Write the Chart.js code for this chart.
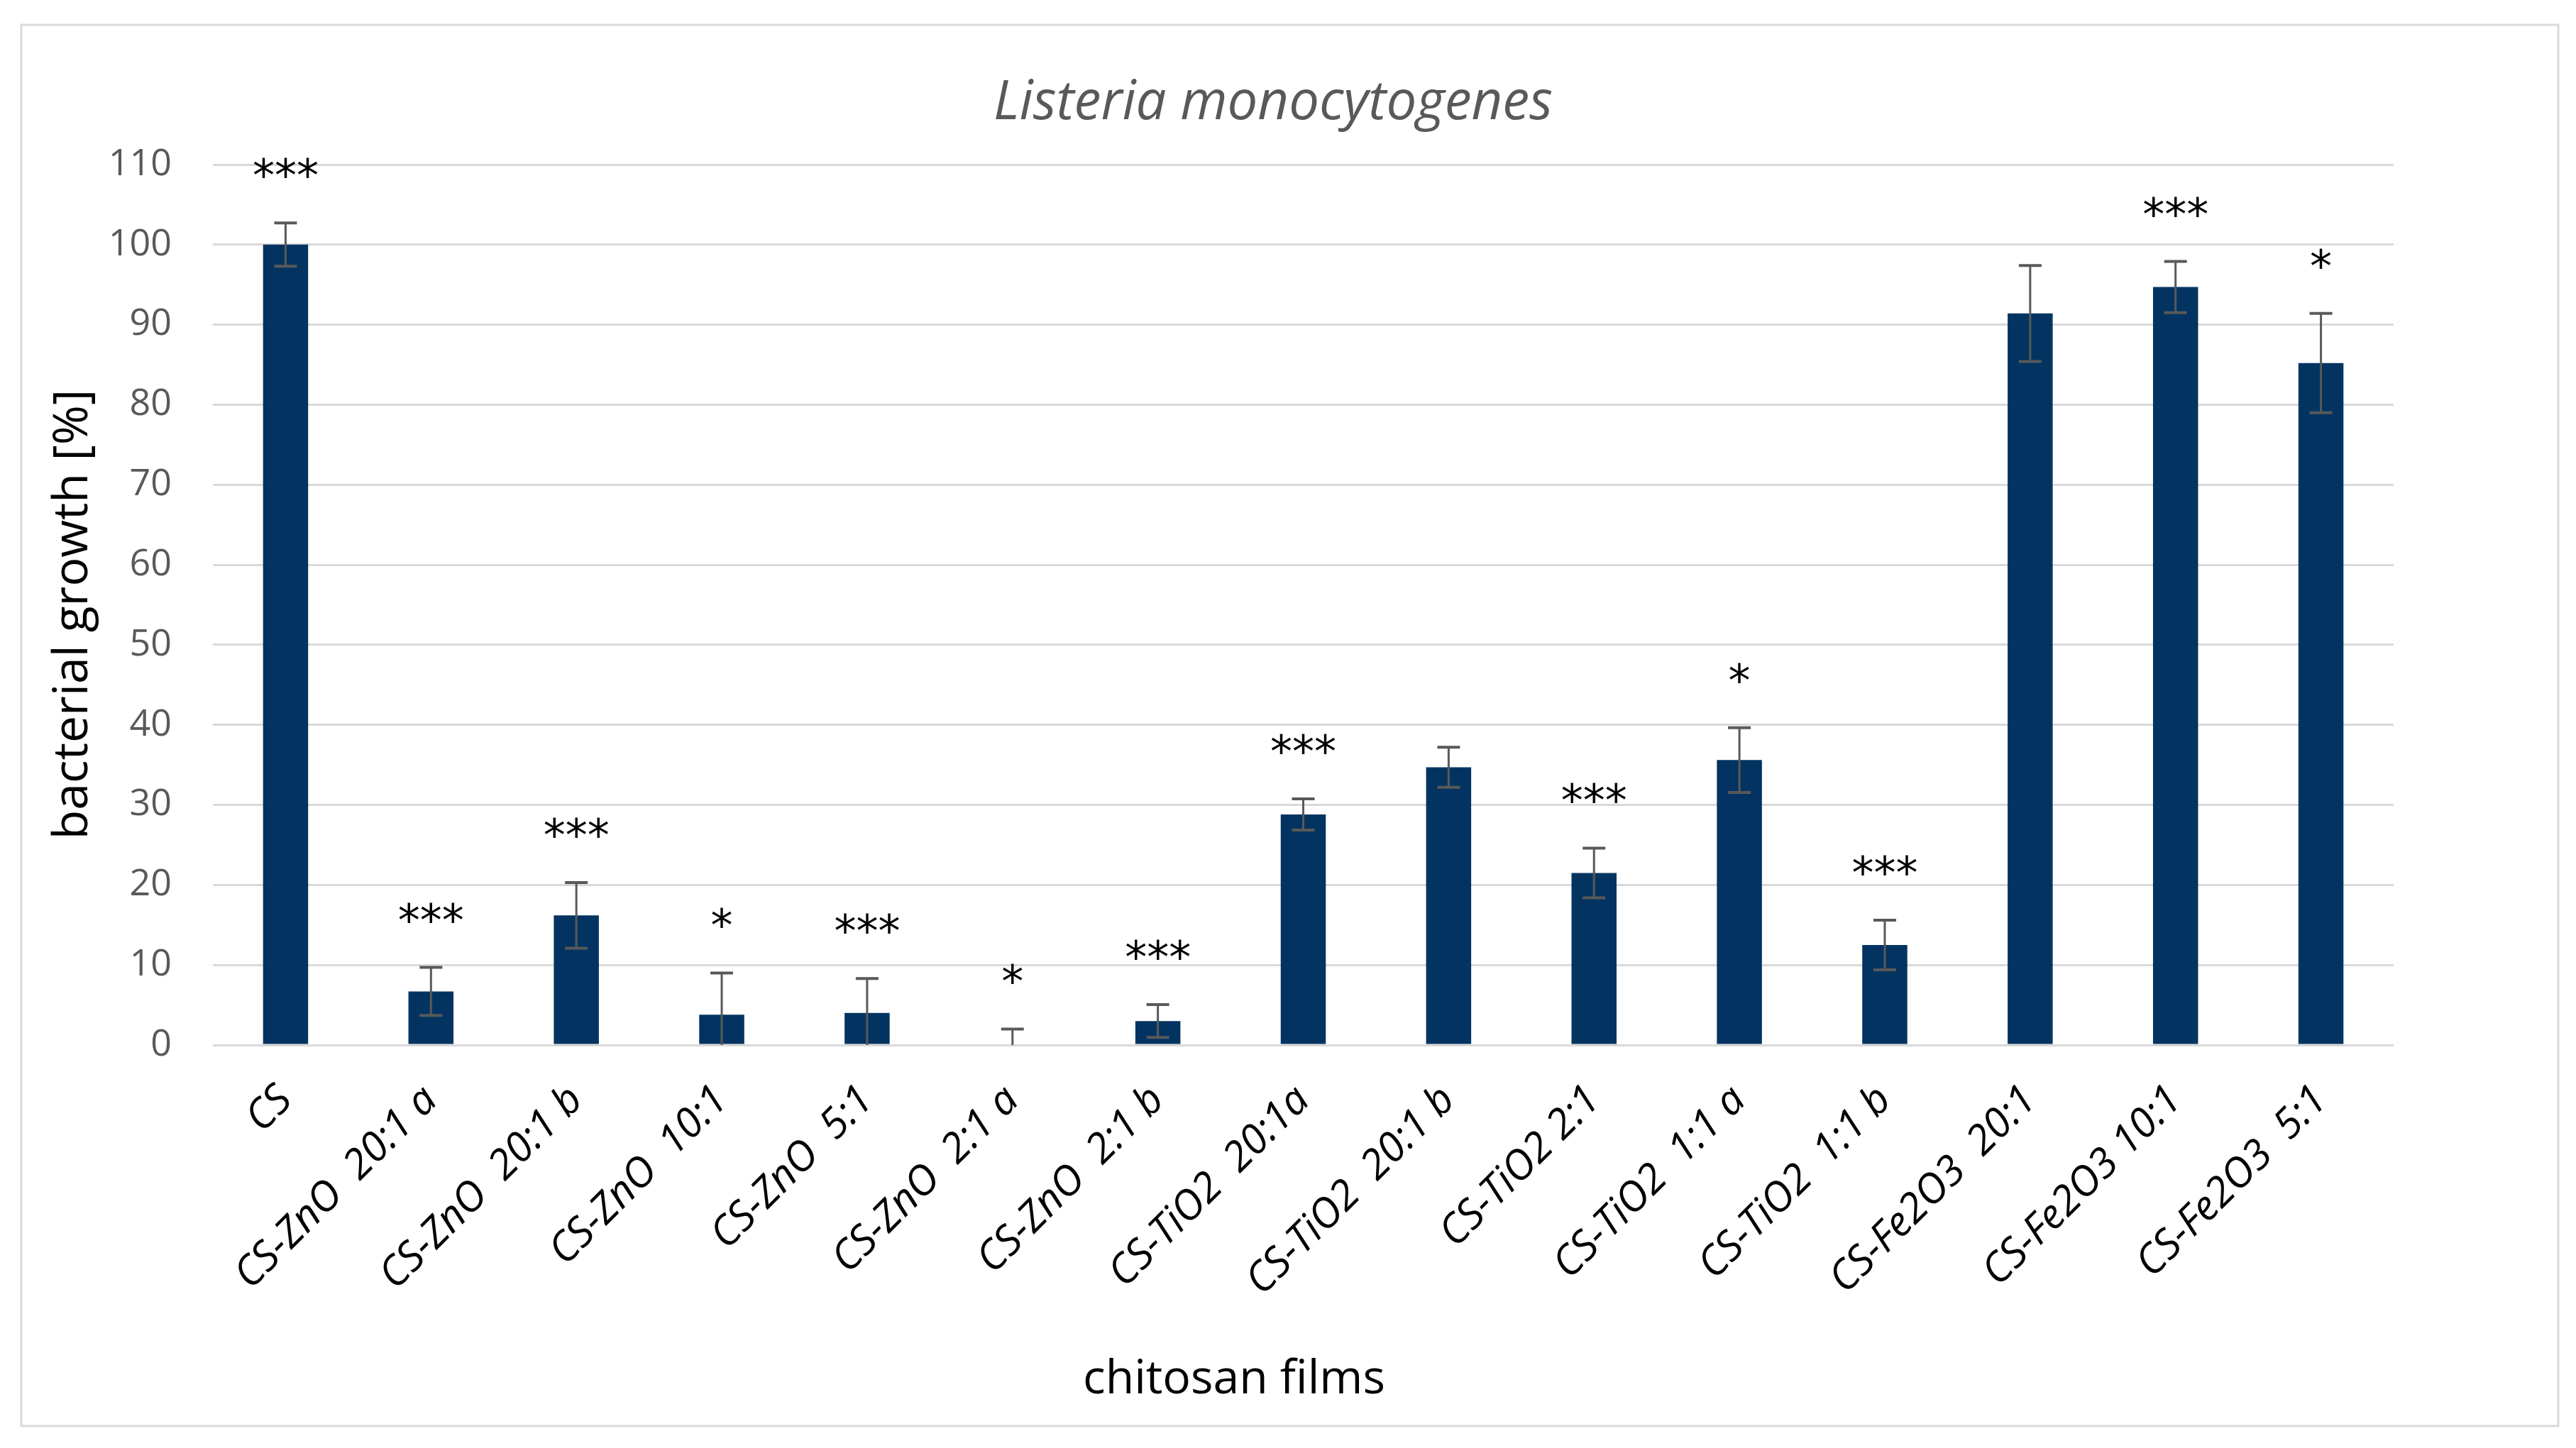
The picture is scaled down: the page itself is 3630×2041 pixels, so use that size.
<!DOCTYPE html>
<html>
<head>
<meta charset="utf-8">
<title>Listeria monocytogenes</title>
<script src="https://cdn.jsdelivr.net/npm/chart.js@4.4.0/dist/chart.umd.min.js"></script>
<style>
    html, body { margin: 0; padding: 0; background: #fff; }
    .chart-section { position: relative; width: 3630px; height: 2041px; }
</style>
</head>
<body>
<div class="chart-section">
    <canvas id="growthChart"></canvas>
</div>
<script>
// Chitosan film samples and measured growth (%) of Listeria monocytogenes
const categories = [
    'CS', 'CS-ZnO  20:1 a', 'CS-ZnO  20:1 b', 'CS-ZnO  10:1', 'CS-ZnO  5:1',
    'CS-ZnO  2:1 a', 'CS-ZnO  2:1 b', 'CS-TiO2  20:1a', 'CS-TiO2  20:1 b', 'CS-TiO2 2:1',
    'CS-TiO2  1:1 a', 'CS-TiO2  1:1 b', 'CS-Fe2O3  20:1', 'CS-Fe2O3 10:1', 'CS-Fe2O3  5:1'
];
const growthValues = [100, 6.7, 16.2, 3.8, 4.0, 0, 3.0, 28.8, 34.7, 21.5, 35.6, 12.5, 91.4, 94.7, 85.2];
const errorValues = [2.7, 3.0, 4.1, 5.2, 4.3, 2.0, 2.05, 1.95, 2.5, 3.1, 4.05, 3.1, 6.0, 3.2, 6.2];
const significance = ['***', '***', '***', '*', '***', '*', '***', '***', '', '***', '*', '***', '', '***', '*'];
const yTicks = [0, 10, 20, 30, 40, 50, 60, 70, 80, 90, 100, 110];

const chartTitle = 'Listeria monocytogenes';
const xTitle = 'chitosan films';
const yTitle = 'bacterial growth [%]';

document.addEventListener('DOMContentLoaded', function() {
    // white page + light grey frame round the whole figure
    const framePlugin = {
        id: 'frame',
        beforeDraw(chart) {
            const c = chart.ctx;
            c.save();
            c.fillStyle = '#ffffff';
            c.fillRect(0, 0, chart.width, chart.height);
            c.strokeStyle = '#d9d9d9';
            c.lineWidth = 3;
            c.strokeRect(30, 35, 3575, 1975);
            c.restore();
        }
    };

    // chart title and axis titles (placed like the Excel original, not centred on the plot)
    const titlesPlugin = {
        id: 'titles',
        afterDraw(chart) {
            const c = chart.ctx;
            c.save();
            c.textAlign = 'center';
            c.textBaseline = 'middle';

            c.fillStyle = '#595959';
            c.font = 'italic 76px "Open Sans", sans-serif';
            c.fillText(chartTitle, 1794, 146);

            c.fillStyle = '#000000';
            c.font = '66px "Open Sans", sans-serif';
            c.fillText(xTitle, 1739, 1945);

            c.translate(104, 866);
            c.rotate(-Math.PI / 2);
            c.font = '68px "Open Sans", sans-serif';
            c.fillText(yTitle, 0, 0);
            c.restore();
        }
    };

    // error bars and significance stars, placed through the y scale
    const errorBarPlugin = {
        id: 'errorBars',
        afterDatasetsDraw(chart) {
            const c = chart.ctx;
            const y = chart.scales.y;
            const meta = chart.getDatasetMeta(0);
            c.save();
            meta.data.forEach((bar, i) => {
                const v = growthValues[i];
                const e = errorValues[i];
                const top = y.getPixelForValue(v + e);
                const bottom = y.getPixelForValue(Math.max(0, v - e));
                c.strokeStyle = '#595959';
                c.lineWidth = 3;
                c.beginPath();
                c.moveTo(bar.x, top);
                c.lineTo(bar.x, bottom);
                c.stroke();
                c.lineWidth = 4;
                c.beginPath();
                c.moveTo(bar.x - 16, top);
                c.lineTo(bar.x + 16, top);
                if (v - e > 0) {
                    c.moveTo(bar.x - 16, bottom);
                    c.lineTo(bar.x + 16, bottom);
                }
                c.stroke();

                if (significance[i]) {
                    c.fillStyle = '#000000';
                    c.font = '62px "DejaVu Sans"';
                    c.textAlign = 'center';
                    c.textBaseline = 'alphabetic';
                    c.fillText(significance[i], bar.x, top - 45);
                }
            });
            c.restore();
        }
    };

    const config = {
        type: 'bar',
        data: {
            labels: categories,
            datasets: [{
                label: yTitle,
                data: growthValues,
                backgroundColor: '#033461',
                borderWidth: 0,
                barPercentage: 0.31,
                categoryPercentage: 1.0
            }]
        },
        options: {
            responsive: true,
            maintainAspectRatio: false,
            animation: false,
            layout: {
                padding: { left: 60, right: 257, top: 232, bottom: 40 }
            },
            plugins: {
                legend: { display: false },
                tooltip: { enabled: false },
                title: { display: false }
            },
            scales: {
                x: {
                    grid: { display: false },
                    border: { display: false },
                    ticks: {
                        color: '#000000',
                        font: { size: 58, family: '"Open Sans", sans-serif', style: 'italic' },
                        minRotation: 45,
                        maxRotation: 45,
                        autoSkip: false,
                        padding: 36
                    },
                    afterFit(scale) {
                        scale.height = 2041 - 1473 - 40;
                    }
                },
                y: {
                    min: 0,
                    max: 110,
                    afterBuildTicks(scale) {
                        scale.ticks = yTicks.map(v => ({ value: v }));
                    },
                    grid: {
                        color: '#d9d9d9',
                        lineWidth: 3,
                        drawTicks: false
                    },
                    border: { display: false },
                    ticks: {
                        color: '#595959',
                        font: { size: 52, family: '"Open Sans", sans-serif' },
                        padding: 58
                    },
                    afterFit(scale) {
                        scale.width = 240;
                    }
                }
            }
        },
        plugins: [framePlugin, titlesPlugin, errorBarPlugin]
    };

    const ctx = document.getElementById('growthChart');
    if (ctx) {
        new Chart(ctx, config);
    }
});
</script>
</body>
</html>
